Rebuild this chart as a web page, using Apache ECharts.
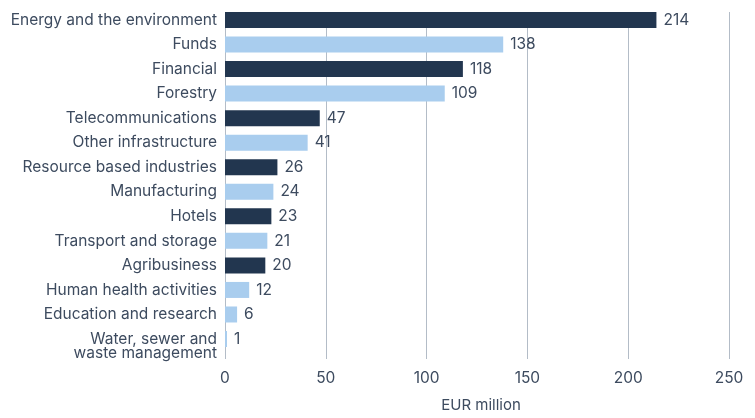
<!DOCTYPE html>
<html>
<head>
<meta charset="utf-8">
<script src="https://cdn.jsdelivr.net/npm/echarts@6/dist/echarts.min.js"></script>
<style>
html,body{margin:0;padding:0;background:#fff;}
#chart{width:755px;height:418px;}
</style>
</head>
<body>
<div id="chart"></div>
<script>
const categories = [
  'Energy and the environment',
  'Funds',
  'Financial',
  'Forestry',
  'Telecommunications',
  'Other infrastructure',
  'Resource based industries',
  'Manufacturing',
  'Hotels',
  'Transport and storage',
  'Agribusiness',
  'Human health activities',
  'Education and research',
  'Water, sewer and\nwaste management'
];
const values = [214, 138, 118, 109, 47, 41, 26, 24, 23, 21, 20, 12, 6, 1];
// 1 = dark bar, 0 = light bar (as shown in the reference)
const darkGroup = [1, 0, 1, 0, 1, 0, 1, 0, 1, 0, 1, 0, 0, 0];
const xTicks = [0, 50, 100, 150, 200, 250];
const axisName = 'EUR million';

const DARK = '#22364f';
const LIGHT = '#a9cdee';
const TEXT = '#3d4b5f';
const FONT = 'Inter';
const FS = 15.5;

const chart = echarts.init(document.getElementById('chart'), null, {renderer: 'canvas'});
chart.setOption({
  animation: false,
  textStyle: {fontFamily: FONT},
  grid: [
    {left: 225, width: 504, top: 12, height: 351, containLabel: false},
    {left: 225, width: 504, top: 7.7, height: 343.6, containLabel: false}
  ],
  xAxis: [
    {
      gridIndex: 0, type: 'value', min: xTicks[0], max: xTicks[xTicks.length - 1], interval: 50,
      axisLine: {show: false}, axisTick: {show: false},
      splitLine: {show: true, lineStyle: {color: '#b3bcc7', width: 1}},
      axisLabel: {color: TEXT, fontSize: FS, fontFamily: FONT, margin: 11},
      name: axisName, nameLocation: 'middle', nameGap: 39,
      nameTextStyle: {color: TEXT, fontSize: 15, fontFamily: FONT, padding: [0, 0, 0, 8]}
    },
    {
      gridIndex: 1, type: 'value', min: xTicks[0], max: xTicks[xTicks.length - 1],
      show: false, splitLine: {show: false}
    }
  ],
  yAxis: [
    {gridIndex: 0, type: 'value', show: false, min: 0, max: 1, splitLine: {show: false}},
    {
      gridIndex: 1, type: 'category', inverse: true,
      data: categories,
      axisLine: {show: false}, axisTick: {show: false},
      axisLabel: {
        color: TEXT, fontSize: FS, fontFamily: FONT, margin: 8, lineHeight: 14,
        interval: 0, hideOverlap: false,
        formatter: v => (v.indexOf('\n') >= 0 ? '\n' + v : v)
      }
    }
  ],
  series: [{
    type: 'bar',
    xAxisIndex: 1, yAxisIndex: 1,
    data: values.map((v, i) => ({value: v, itemStyle: {color: darkGroup[i] ? DARK : LIGHT}})),
    barWidth: 16,
    label: {show: true, position: 'right', distance: 7, color: TEXT, fontSize: FS, fontFamily: FONT}
  }]
});
</script>
</body>
</html>
